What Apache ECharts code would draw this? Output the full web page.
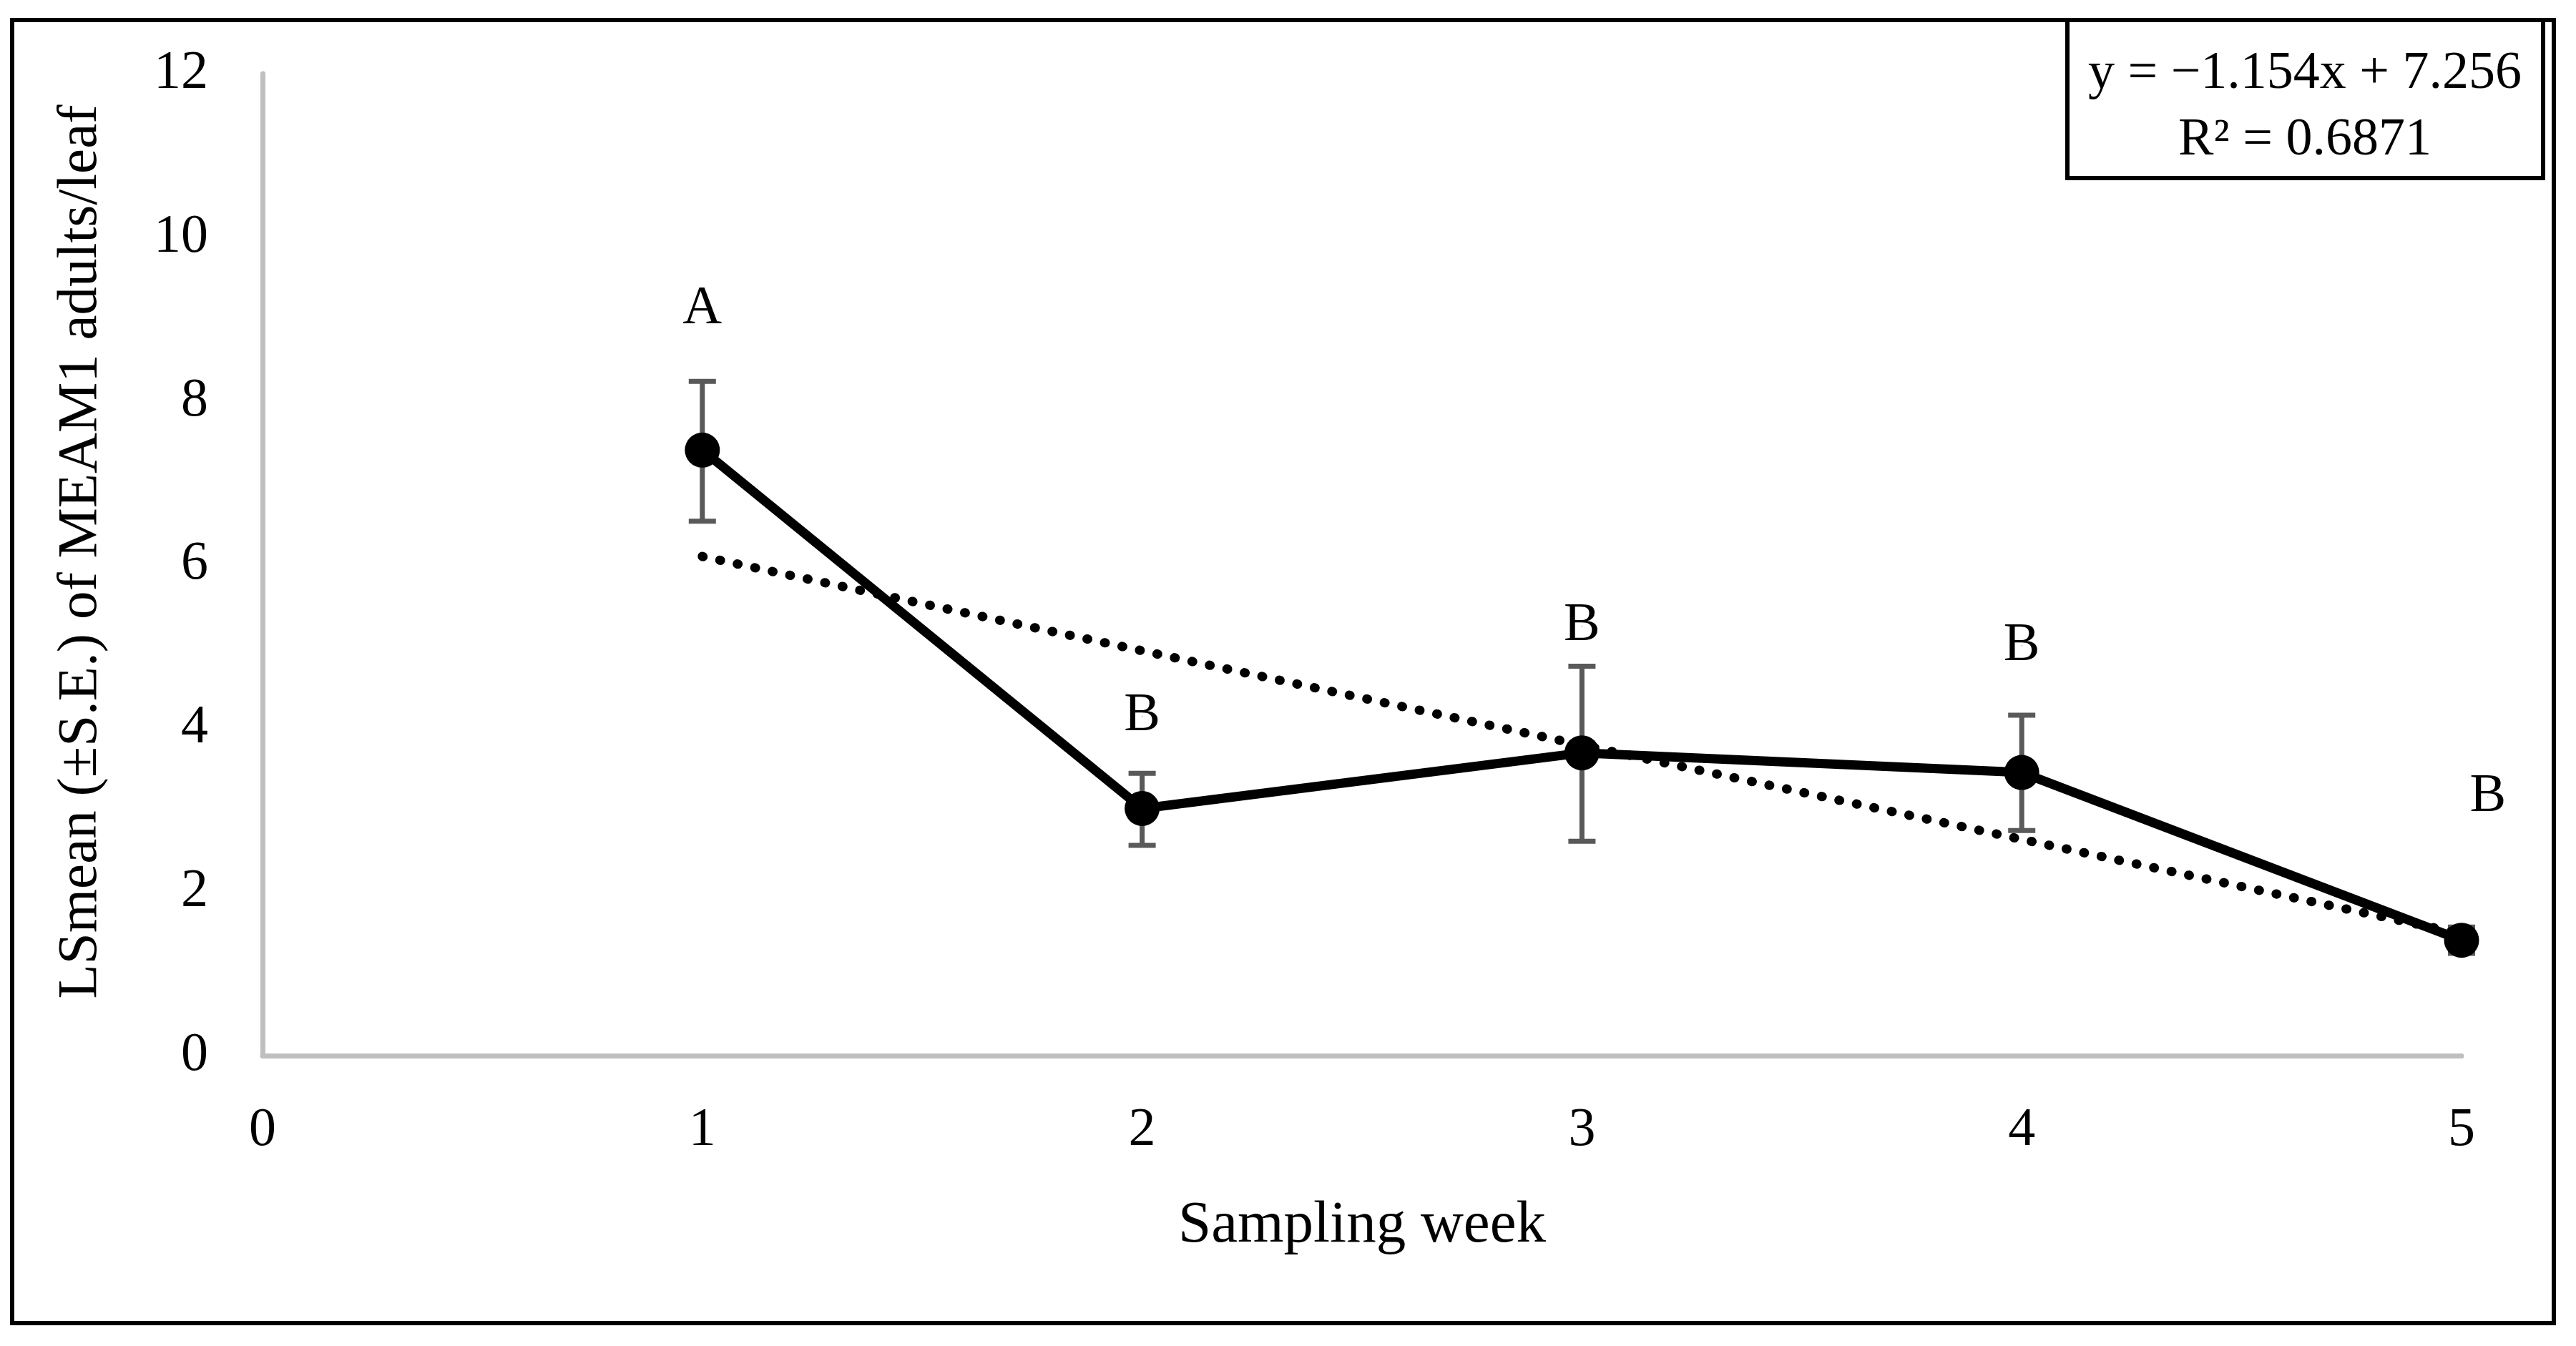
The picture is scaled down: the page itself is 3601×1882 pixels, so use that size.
<!DOCTYPE html>
<html>
<head>
<meta charset="utf-8">
<script src="https://cdn.jsdelivr.net/npm/echarts@6/dist/echarts.min.js"></script>
<style>
html,body{margin:0;padding:0;background:#fff;}
#chart{width:3601px;height:1882px;}
</style>
</head>
<body>
<div id="chart"></div>
<script>
// ---- data ----
var weeks = [1, 2, 3, 4, 5];
var lsMeans = [7.40, 3.02, 3.70, 3.46, 1.41];
var seLow = [6.53, 2.57, 2.62, 2.75, 1.25];
var seHigh = [8.24, 3.45, 4.76, 4.16, 1.57];
var trendX = [1, 5];
var trendY = [6.10, 1.49];
var letterText = ['A', 'B', 'B', 'B', 'B'];
var letterX = [1, 2, 3, 4, 5.06];
var letterY = [9.12, 4.15, 5.25, 5.01, 3.16];
var yTicks = [0, 2, 4, 6, 8, 10, 12];
var xTicks = [0, 1, 2, 3, 4, 5];
var equationLines = ['y = \u22121.154x + 7.256', 'R\u00B2 = 0.6871'];
var xTitle = 'Sampling week';
var yTitle = 'LSmean (\u00B1S.E.) of MEAM1 adults/leaf';

var FONT = '"Liberation Serif", "Times New Roman", serif';

var meanData = weeks.map(function (w, i) { return [w, lsMeans[i]]; });
var errData = weeks.map(function (w, i) { return [w, seLow[i], seHigh[i]]; });
var trendData = trendX.map(function (x, i) { return [x, trendY[i]]; });
var letterData = letterX.map(function (x, i) { return [x, letterY[i], letterText[i]]; });

var chart = echarts.init(document.getElementById('chart'));
var option = {
  backgroundColor: '#ffffff',
  animation: false,
  grid: { left: 367, right: 160, top: 103, bottom: 406, containLabel: false },
  xAxis: {
    type: 'value', min: xTicks[0], max: xTicks[xTicks.length - 1], interval: 1,
    name: xTitle, nameLocation: 'middle', nameGap: 197,
    nameTextStyle: { fontFamily: FONT, fontSize: 83, color: '#000' },
    axisLine: { show: true, lineStyle: { color: '#bfbfbf', width: 7 } },
    axisTick: { show: false },
    splitLine: { show: false },
    axisLabel: { fontFamily: FONT, fontSize: 76, color: '#000', margin: 67 }
  },
  yAxis: {
    type: 'value', min: yTicks[0], max: yTicks[yTicks.length - 1], interval: 2,
    name: yTitle, nameLocation: 'middle', nameGap: 214, nameRotate: 90,
    nameTextStyle: { fontFamily: FONT, fontSize: 79, color: '#000', padding: [0, 0, 0, 36] },
    axisLine: { show: true, lineStyle: { color: '#bfbfbf', width: 7 } },
    axisTick: { show: false },
    splitLine: { show: false },
    axisLabel: { fontFamily: FONT, fontSize: 76, color: '#000', margin: 76 }
  },
  graphic: [
    { type: 'rect', z: 100, shape: { x: 17, y: 28, width: 3553, height: 1822 },
      style: { fill: 'none', stroke: '#000', lineWidth: 6 } },
    { type: 'rect', z: 101, shape: { x: 2890, y: 28, width: 665, height: 221 },
      style: { fill: '#fff', stroke: '#000', lineWidth: 6 } },
    { type: 'text', z: 102, x: 3222, y: 104,
      style: { text: equationLines[0], font: '74px ' + FONT, fill: '#000', textAlign: 'center', textVerticalAlign: 'middle' } },
    { type: 'text', z: 102, x: 3222, y: 197,
      style: { text: equationLines[1], font: '74px ' + FONT, fill: '#000', textAlign: 'center', textVerticalAlign: 'middle' } }
  ],
  series: [
    {
      type: 'custom', name: 'SE', z: 2,
      data: errData,
      renderItem: function (params, api) {
        var x = api.value(0);
        var lo = api.coord([x, api.value(1)]);
        var hi = api.coord([x, api.value(2)]);
        var hw = 19;
        var st = { stroke: '#595959', lineWidth: 7 };
        return {
          type: 'group',
          children: [
            { type: 'line', shape: { x1: lo[0], y1: lo[1], x2: hi[0], y2: hi[1] }, style: st },
            { type: 'line', shape: { x1: lo[0] - hw, y1: lo[1], x2: lo[0] + hw, y2: lo[1] }, style: st },
            { type: 'line', shape: { x1: hi[0] - hw, y1: hi[1], x2: hi[0] + hw, y2: hi[1] }, style: st }
          ]
        };
      }
    },
    {
      type: 'line', name: 'Trend', z: 3,
      data: trendData, symbol: 'none',
      lineStyle: { color: '#000', width: 13, type: [1, 24], cap: 'round' }
    },
    {
      type: 'line', name: 'LSmean', z: 4,
      data: meanData, symbol: 'circle', symbolSize: 49,
      itemStyle: { color: '#000' },
      lineStyle: { color: '#000', width: 13 }
    },
    {
      type: 'scatter', name: 'Letters', z: 5, clip: false,
      data: letterData, symbolSize: 1, itemStyle: { color: '#000', opacity: 1 },
      label: {
        show: true, position: 'inside', fontFamily: FONT, fontSize: 76, color: '#000',
        textBorderWidth: 0, opacity: 1,
        formatter: function (p) { return p.value[2]; }
      }
    }
  ]
};
chart.setOption(option);
</script>
</body>
</html>
